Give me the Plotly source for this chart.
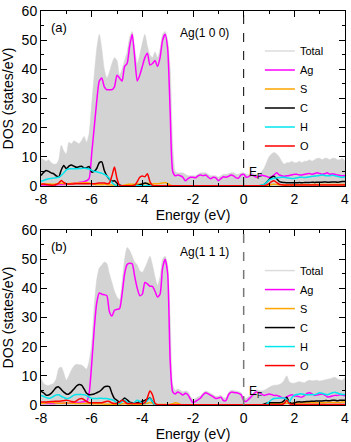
import numpy as np
import plotly.graph_objects as go
from plotly.subplots import make_subplots

# energy grid, -8 ... 4 eV in 0.1 eV steps
energie = np.round(np.arange(-8.0, 4.05, 0.1), 1)

# ---- (a) Ag(1 0 0) ----
total_a = [9.5, 9, 8.5, 9, 8, 7.5, 7.5, 9, 14, 12,
           11, 15, 14.5, 15.5, 15, 14.5, 15.5, 17, 15, 18,
           28, 38, 47, 52, 47, 40, 37, 39, 42, 44,
           43, 38, 40, 43, 46, 51, 53, 47, 42, 45,
           49, 52, 48, 45, 44, 46, 44, 47, 52, 53,
           50, 40, 14, 5, 4.5, 4.5, 4.5, 4, 3.5, 3.5,
           3.5, 3.5, 4, 4.5, 4.5, 4.5, 4, 3.5, 3.5, 3.5,
           3, 3.5, 4, 4, 4.2, 4.5, 4.5, 4, 4, 4.5,
           4.5, 4, 4, 4.5, 4.3, 4, 4.2, 4.8, 6, 8,
           10, 11, 11.5, 11, 10, 8.5, 7.5, 8, 8, 8.5,
           8, 8, 8.5, 8, 8.5, 8.5, 9, 8.5, 9, 9.5,
           9.5, 9, 9.5, 9.5, 9, 9.5, 9.5, 9, 9, 9.5,
           8.5]
ag_a = [0.3, 0.3, 0.3, 0.3, 0.3, 0.3, 0.4, 0.5, 0.5, 0.5,
        0.6, 0.7, 0.8, 1, 1, 1.2, 1.3, 1.5, 1.8, 2.5,
        11, 20, 29, 36, 37, 34, 33, 33, 33, 34,
        38, 37, 36, 41, 42, 48, 52, 44, 36, 38,
        41, 44, 45.5, 41.5, 42, 43, 41, 44, 50, 52,
        47, 25, 5, 3.5, 3.8, 3.5, 3, 1.8, 2.5, 3,
        3, 2.8, 3.5, 3.8, 3.5, 3.8, 3, 2.5, 3, 2.8,
        1.8, 2.5, 3.2, 3, 3.3, 3.8, 3.5, 2.8, 2.7, 3.8,
        4, 3, 3.2, 3.8, 3.5, 3, 3.3, 3.8, 3.5, 3.3,
        3, 3.2, 3.8, 4.5, 3.8, 3.5, 3.3, 3.5, 3.6, 3.8,
        4, 4, 3.8, 3.8, 4, 4.2, 4.3, 4, 4.3, 4.5,
        4.3, 4, 4.2, 4.5, 4, 4.2, 4, 3.8, 3.6, 3.5,
        3.6]
s_a = [0.6, 0.6, 0.7, 0.7, 0.6, 0.6, 0.7, 0.8, 0.9, 0.8,
       0.8, 0.8, 0.9, 0.9, 1, 1, 1, 1.1, 1.2, 1,
       0.8, 0.6, 0.5, 0.5, 0.5, 0.6, 0.5, 0.4, 0.3, 0.3,
       0.2, 0.1, 0.1, 0.3, 0.5, 0.6, 0.6, 0.6, 0.7, 0.6,
       0.7, 0.8, 0.9, 0.8, 0.7, 0.8, 0.8, 0.9, 1, 1.2,
       0.8, 0.3, 0.1, 0.05, 0.05, 0.05, 0.05, 0.05, 0.05, 0.05,
       0.05, 0.05, 0.05, 0.05, 0.05, 0.05, 0.05, 0.05, 0.05, 0.05,
       0.05, 0.05, 0.05, 0.05, 0.05, 0.05, 0.05, 0.05, 0.05, 0.05,
       0.05, 0.05, 0.05, 0.05, 0.05, 0.05, 0.05, 0.05, 0.05, 0.1,
       0.3, 0.5, 0.6, 0.5, 0.4, 0.4, 0.4, 0.4, 0.4, 0.4,
       0.4, 0.4, 0.4, 0.5, 0.5, 0.4, 0.4, 0.5, 0.5, 0.5,
       0.5, 0.5, 0.5, 0.5, 0.5, 0.5, 0.5, 0.5, 0.5, 0.5,
       0.5]
c_a = [3.6, 4.6, 5.3, 5, 4.5, 4.2, 3.5, 3.1, 5.5, 7,
       5.9, 6.8, 7.2, 6.8, 6.4, 6.6, 6.8, 6.2, 6.3, 6.7,
       4.8, 5, 6, 8, 8.3, 5.3, 3.5, 2.3, 1.7, 1.8,
       1, 0.4, 0.1, 0.1, 0.1, 0.1, 0.1, 0.2, 0.2, 0.4,
       0.7, 1, 0.8, 0.3, 0.1, 0.1, 0.1, 0.1, 0.1, 0.1,
       0.1, 0.1, 0.1, 0.1, 0.1, 0.1, 0.1, 0.1, 0.1, 0.1,
       0.1, 0.1, 0.1, 0.1, 0.1, 0.1, 0.1, 0.1, 0.1, 0.1,
       0.1, 0.1, 0.1, 0.1, 0.1, 0.1, 0.1, 0.1, 0.1, 0.1,
       0.1, 0.1, 0.1, 0.1, 0.1, 0.1, 0.1, 0.2, 0.5, 1.2,
       2.2, 3, 3.3, 2.5, 1.6, 1.3, 1.2, 1.1, 1.1, 1.1,
       1.1, 1.1, 1.2, 1.1, 1.2, 1.2, 1.2, 1.3, 1.2, 1.3,
       1.3, 1.3, 1.4, 1.3, 1.3, 1.4, 1.4, 1.3, 1.4, 1.5,
       1.5]
h_a = [1.6, 1.9, 2.2, 2.5, 2.6, 2.7, 2.8, 3, 3.6, 4.5,
       5.5, 5.9, 5.9, 5.9, 5.9, 6, 6, 6.1, 6, 5.8,
       5.4, 5, 4.9, 4.6, 4.4, 4, 3.4, 2.6, 1.2, 0.4,
       0.2, 0.1, 0.1, 0.1, 0.1, 0.1, 0.1, 0.1, 0.1, 0.1,
       0.1, 0.1, 0.1, 0.1, 0.1, 0.1, 0.1, 0.1, 0.1, 0.1,
       0.1, 0.1, 0.1, 0.1, 0.1, 0.1, 0.1, 0.1, 0.1, 0.1,
       0.1, 0.1, 0.1, 0.1, 0.1, 0.1, 0.1, 0.1, 0.1, 0.1,
       0.1, 0.1, 0.1, 0.1, 0.1, 0.1, 0.1, 0.1, 0.1, 0.1,
       0.1, 0.1, 0.1, 0.1, 0.1, 0.1, 0.1, 0.3, 0.5, 1.2,
       2, 2.4, 2.6, 2.8, 2.9, 3, 3, 2.8, 2.7, 2.6,
       2.6, 2.8, 3, 3, 2.9, 3, 3.2, 3.3, 3.4, 3.5,
       3.6, 3.8, 3.6, 3.5, 3.5, 3.7, 3.5, 3.3, 3.1, 3,
       3.2]
o_a = [0.6, 0.7, 0.5, 0.4, 0.3, 0.3, 0.5, 1, 1.9, 1.2,
       0.8, 0.7, 0.7, 0.7, 0.8, 0.8, 0.8, 0.8, 0.8, 0.8,
       0.8, 0.8, 0.9, 1, 1, 1, 0.8, 1, 3.5, 6.5,
       2.5, 0.2, 0.1, 0.1, 0.1, 0.1, 0.1, 0.2, 1.5, 3,
       3.4, 3.2, 4.2, 1.5, 0.2, 0.1, 0.1, 0.1, 0.1, 0.1,
       0.1, 0.1, 0.1, 0.1, 0.1, 0.1, 0.1, 0.1, 0.1, 0.1,
       0.1, 0.1, 0.1, 0.1, 0.1, 0.1, 0.1, 0.1, 0.1, 0.1,
       0.1, 0.1, 0.1, 0.1, 0.1, 0.1, 0.1, 0.1, 0.1, 0.1,
       0.1, 0.1, 0.1, 0.1, 0.1, 0.1, 0.1, 0.1, 0.1, 0.3,
       0.8, 1.5, 1.8, 1.2, 0.6, 0.4, 0.3, 0.3, 0.3, 0.3,
       0.3, 0.3, 0.3, 0.3, 0.3, 0.3, 0.3, 0.3, 0.3, 0.3,
       0.3, 0.3, 0.3, 0.3, 0.3, 0.3, 0.3, 0.3, 0.3, 0.3,
       0.3]

# ---- (b) Ag(1 1 1) ----
total_b = [9, 7.5, 6.8, 6.7, 7, 7.5, 9, 12.5, 13, 11,
           8.5, 10, 12, 13.4, 14, 13.8, 13.7, 13, 12.3, 15,
           21, 34, 43, 47, 48, 49, 48.5, 45, 42, 39,
           37, 36, 42, 50, 54, 53, 51, 49, 48, 46,
           45.5, 47, 49, 51, 48, 44, 41, 44, 50, 51,
           48, 30, 7, 5, 5.5, 5, 4.5, 4.8, 4.5, 3,
           2, 2.2, 2.8, 3.2, 4.2, 4.8, 4.5, 4, 3.5, 3,
           3, 3.3, 2.5, 2.5, 4.2, 5, 5, 4.8, 4.6, 4.2,
           2.5, 2.3, 3, 3.6, 4.5, 5.2, 5, 4.8, 5, 5.5,
           6, 6.5, 6.8, 6.8, 7, 7.5, 8.5, 10, 8, 7.5,
           7.5, 7.8, 8, 7.8, 7.6, 8.2, 8.5, 8.3, 8.4, 8.5,
           8.2, 8.4, 8.6, 8.8, 9, 9.3, 9.5, 9, 8.6, 8.5,
           9.5]
ag_b = [0.5, 0.5, 0.5, 0.5, 0.5, 0.5, 0.6, 0.6, 0.6, 0.6,
        0.7, 0.7, 0.8, 0.8, 0.9, 0.9, 1, 1.1, 1.2, 4,
        14, 26, 35, 38.4, 38, 37.8, 37.5, 32, 30.5, 32.5,
        32.8, 33, 38, 45, 48.2, 48.6, 48.4, 44, 40, 37.5,
        38, 42, 41.5, 40.7, 40.7, 39, 37, 38, 47, 50,
        45, 15, 4.5, 3.8, 4.5, 4, 3.4, 4, 3.5, 2,
        0.8, 1.2, 1.8, 2.4, 3.5, 4.2, 3.8, 3.3, 2.8, 2.2,
        2.4, 2.7, 1.5, 1.5, 3.5, 4.4, 4.3, 4.2, 4, 3.5,
        1.5, 1.2, 2, 2.8, 3.8, 4.5, 4.2, 3.8, 3.3, 3.5,
        3.8, 3.6, 3.3, 3.3, 3, 2.6, 2.4, 2.8, 3.2, 3.5,
        3.2, 3, 2.8, 2.7, 3.2, 4, 4.2, 3.8, 3.3, 3.4,
        3.6, 3.8, 3.4, 2.8, 2.8, 3.1, 3.3, 3.3, 3.5, 3.4,
        3.2]
s_b = [0.6, 0.6, 0.7, 0.8, 0.9, 0.8, 0.7, 0.6, 0.6, 0.7,
       0.8, 0.7, 0.6, 0.6, 0.5, 0.5, 0.5, 0.5, 0.5, 0.5,
       0.5, 0.4, 0.4, 0.4, 0.4, 0.3, 0.3, 0.3, 0.3, 0.3,
       0.3, 0.3, 0.4, 0.5, 0.4, 0.3, 0.3, 0.3, 0.3, 0.3,
       0.3, 0.4, 0.6, 0.9, 0.6, 0.3, 0.2, 0.2, 0.2, 0.2,
       0.2, 0.2, 0.4, 0.8, 0.6, 0.2, 0.1, 0.05, 0.05, 0.05,
       0.05, 0.05, 0.05, 0.05, 0.05, 0.05, 0.05, 0.05, 0.05, 0.05,
       0.05, 0.05, 0.05, 0.05, 0.05, 0.05, 0.05, 0.05, 0.05, 0.05,
       0.05, 0.05, 0.05, 0.05, 0.05, 0.05, 0.05, 0.05, 0.1, 0.2,
       0.3, 0.4, 0.5, 0.5, 0.5, 0.6, 0.6, 0.6, 0.6, 0.6,
       0.6, 0.7, 0.7, 0.7, 0.8, 0.8, 0.8, 0.8, 0.8, 0.8,
       0.8, 0.8, 0.8, 0.9, 0.9, 0.9, 0.9, 0.9, 0.9, 1,
       1]
c_b = [4.8, 4.2, 3.4, 3.4, 4, 5, 6, 6.2, 5.3, 4.4,
       3.8, 3.8, 4.5, 5.5, 6.5, 7, 6.8, 5.5, 4, 3.5,
       3.6, 3.8, 4.2, 4.6, 5.3, 6.2, 6.4, 6.3, 4, 2.2,
       1.6, 1, 1.6, 2.4, 1.8, 1, 0.8, 0.7, 0.8, 1,
       1.3, 1.6, 2, 2.4, 1.2, 0.1, 0.05, 0.05, 0.05, 0.05,
       0.05, 0.05, 0.05, 0.05, 0.05, 0.05, 0.05, 0.05, 0.05, 0.05,
       0.05, 0.05, 0.05, 0.05, 0.05, 0.05, 0.05, 0.05, 0.05, 0.05,
       0.05, 0.05, 0.05, 0.05, 0.05, 0.05, 0.05, 0.05, 0.05, 0.05,
       0.05, 0.05, 0.05, 0.05, 0.05, 0.05, 0.05, 0.05, 0.3, 0.6,
       0.8, 0.8, 0.8, 0.8, 0.8, 0.9, 1.5, 2.7, 1, 0.5,
       0.7, 1, 1.1, 1, 1.1, 1.2, 1.2, 1.3, 1.3, 1.4,
       1.4, 1.4, 1.5, 1.5, 1.5, 1.6, 1.6, 1.5, 1.6, 1.6,
       1.6]
h_b = [3.3, 3, 2.6, 2.3, 2.5, 3, 3.4, 3.5, 3, 2.6,
       2.2, 2.3, 2.8, 3.4, 3.6, 3.6, 3.6, 3.5, 3.2, 2.7,
       2.3, 2.2, 2.2, 2.3, 2.3, 2.2, 2.2, 2, 1.8, 1.4,
       0.6, 0.5, 1.2, 1.6, 1, 0.6, 0.5, 1, 1.6, 1.2,
       0.5, 0.6, 1.5, 2.2, 1.2, 0.1, 0.05, 0.05, 0.05, 0.05,
       0.05, 0.05, 0.05, 0.05, 0.05, 0.05, 0.05, 0.05, 0.05, 0.05,
       0.05, 0.05, 0.05, 0.05, 0.05, 0.05, 0.05, 0.05, 0.05, 0.05,
       0.05, 0.05, 0.05, 0.05, 0.05, 0.05, 0.05, 0.05, 0.05, 0.05,
       0.05, 0.05, 0.05, 0.05, 0.05, 0.05, 0.05, 0.05, 0.05, 0.3,
       1, 1.8, 2.2, 2.3, 2.4, 2.4, 2.4, 1.8, 1, 2.5,
       3.3, 3.6, 3.8, 3.8, 3.6, 3.5, 3.5, 3.6, 3.5, 3.8,
       4.2, 4, 3.7, 3.5, 3.8, 4.2, 4.4, 4.1, 3.8, 3.6,
       3.6]
o_b = [1, 1, 1, 1.1, 1.2, 1.2, 1.3, 1.3, 1.4, 1.5,
       1.6, 1.5, 1.2, 1, 1.4, 2, 2.2, 1.8, 1.2, 0.8,
       0.8, 0.8, 0.8, 0.8, 0.8, 1, 1.3, 1.2, 0.7, 0.5,
       0.6, 1, 1.6, 1.2, 0.5, 0.5, 0.5, 0.5, 0.5, 0.5,
       0.5, 0.8, 2.5, 4.8, 3.5, 0.6, 0.1, 0.05, 0.05, 0.05,
       0.05, 0.05, 0.05, 0.05, 0.05, 0.05, 0.05, 0.05, 0.05, 0.05,
       0.05, 0.05, 0.05, 0.05, 0.05, 0.05, 0.05, 0.05, 0.05, 0.05,
       0.05, 0.05, 0.05, 0.05, 0.05, 0.05, 0.05, 0.05, 0.05, 0.05,
       0.05, 0.05, 0.05, 0.05, 0.05, 0.05, 0.05, 0.05, 0.05, 0.05,
       0.1, 0.1, 0.1, 0.1, 0.1, 0.2, 0.5, 1.6, 0.5, 0.2,
       0.2, 0.2, 0.2, 0.2, 0.2, 0.2, 0.2, 0.2, 0.2, 0.2,
       0.2, 0.2, 0.2, 0.2, 0.2, 0.2, 0.2, 0.2, 0.2, 0.2,
       0.2]

noms = ['Ag', 'S', 'C', 'H', 'O']
couleurs = ['#ff00ff', '#ffa500', '#000000', '#00e5ee', '#ff0000']
panneaux = [('(a)', 'Ag(1 0 0)', total_a, [ag_a, s_a, c_a, h_a, o_a]),
            ('(b)', 'Ag(1 1 1)', total_b, [ag_b, s_b, c_b, h_b, o_b])]
x_ticks = [-8, -6, -4, -2, 0, 2, 4]
x_labels = ['-8', '-6', '-4', '-2', '0', '2', '4']
y_ticks = [0, 10, 20, 30, 40, 50, 60]

police = 'Liberation Sans, Arial, sans-serif'
gris = '#d3d3d3'

fig = make_subplots(rows=2, cols=1, vertical_spacing=44 / 394)

for i, (lettre, surface, total, series) in enumerate(panneaux):
    r = i + 1
    leg = 'legend' if r == 1 else 'legend2'
    fig.add_trace(go.Scatter(x=energie, y=total, mode='lines', fill='tozeroy',
                             fillcolor=gris, line=dict(color=gris, width=0.5, shape='spline', smoothing=0.6),
                             showlegend=False, hoverinfo='skip'), row=r, col=1)
    # legend entry for the total (line sample only)
    fig.add_trace(go.Scatter(x=[None], y=[None], mode='lines', name='Total',
                             line=dict(color='#dcdcdc', width=1.5), legend=leg), row=r, col=1)
    for nom, coul, y in zip(noms, couleurs, series):
        fig.add_trace(go.Scatter(x=energie, y=y, mode='lines', name=nom, legend=leg,
                                 line=dict(color=coul, width=1.5, shape='spline', smoothing=0.6)),
                      row=r, col=1)
    fig.add_annotation(x=-7.3, y=54.5, text=lettre, showarrow=False,
                       font=dict(size=13, color='black'), row=r, col=1)
    fig.add_annotation(x=-1.55, y=52.5, text=surface, showarrow=False,
                       font=dict(size=12, color='black'), row=r, col=1)
    fig.add_annotation(x=0.12, y=4.6, text='E<sub>F</sub>', showarrow=False, xanchor='left',
                       font=dict(size=12, color='black'), row=r, col=1)
    fig.add_vline(x=0, line=dict(color='black' if r == 1 else '#777777', width=1 if r == 1 else 1.5,
                                 dash='dash'), row=r, col=1)
    fig.update_xaxes(range=[-8, 4], tickvals=x_ticks, ticktext=x_labels,
                     title=dict(text='Energy (eV)', font=dict(size=14), standoff=2),
                     row=r, col=1)
    fig.update_yaxes(range=[0, 60], tickvals=y_ticks,
                     title=dict(text='DOS (states/eV)', font=dict(size=14), standoff=4),
                     row=r, col=1)

fig.update_xaxes(showline=True, linecolor='black', linewidth=1, mirror='allticks',
                 ticks='inside', ticklen=6, tickcolor='black', showgrid=False, zeroline=False,
                 minor=dict(dtick=1, ticks='inside', ticklen=3, tickcolor='black', showgrid=False),
                 tickfont=dict(size=14), automargin=False, ticklabeloverflow='allow')
fig.update_yaxes(showline=True, linecolor='black', linewidth=1, mirror='allticks',
                 ticks='inside', ticklen=6, tickcolor='black', showgrid=False, zeroline=False,
                 minor=dict(dtick=5, ticks='inside', ticklen=3, tickcolor='black', showgrid=False),
                 tickfont=dict(size=14), automargin=False, ticklabeloverflow='allow')

leg_style = dict(bgcolor='rgba(0,0,0,0)', font=dict(size=11, color='black', family=police),
                 xanchor='left', yanchor='top', itemwidth=30)
fig.update_layout(
    width=351, height=442,
    margin=dict(l=41, r=6, t=11, b=37),
    plot_bgcolor='white', paper_bgcolor='white',
    font=dict(family=police, color='black'),
    legend=dict(x=0.72, y=0.935, **leg_style),
    legend2=dict(x=0.72, y=0.378, **leg_style),
)

fig.write_html('out.html', config={'displayModeBar': False})

# no default page margin around the figure
with open('out.html', encoding='utf-8') as f:
    page = f.read()
page = page.replace('<body>', '<body style="margin:0">', 1)
with open('out.html', 'w', encoding='utf-8') as f:
    f.write(page)
